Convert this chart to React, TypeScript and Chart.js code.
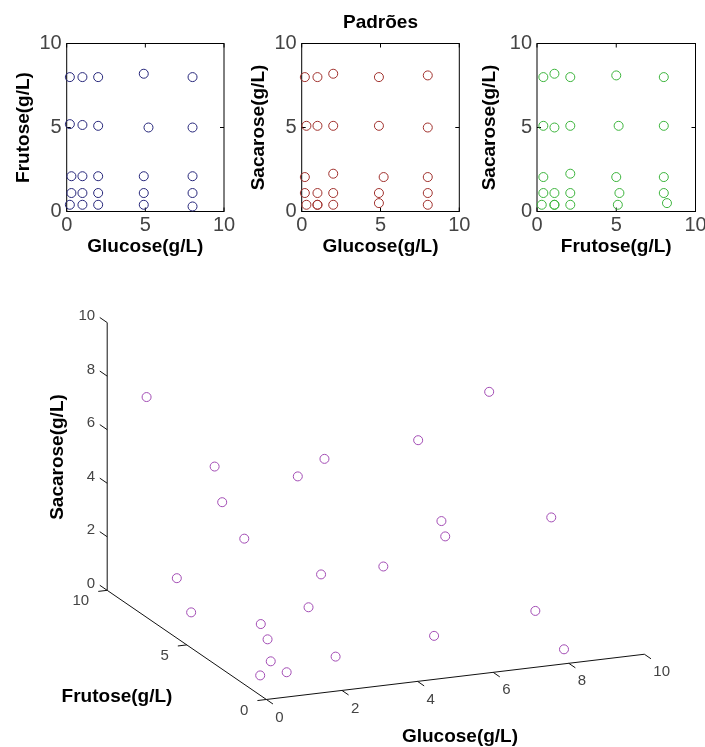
import React, { useEffect, useRef } from "react";
import { Chart, registerables } from "chart.js";

Chart.register(...registerables);

// ---- Data (25 standards: glucose, frutose, sacarose in g/L) ----
const glucose = [0.2, 2.0, 1.0, 0.3, 1.0, 2.0, 1.0, 4.9, 2.0, 0.2, 2.0, 0.2, 2.0, 1.0, 0.3, 1.0, 5.2, 8.0, 4.9, 8.0, 8.0, 4.9, 8.0, 4.9, 8.0];
const frutose = [8.0, 8.0, 5.15, 2.1, 0.4, 1.1, 8.0, 8.2, 2.1, 5.2, 5.1, 0.4, 0.4, 2.1, 1.1, 1.1, 5.0, 2.1, 1.1, 0.3, 5.0, 2.1, 8.0, 0.4, 1.1];
const sacarose = [8.0, 5.1, 5.1, 5.1, 8.0, 8.2, 1.1, 0.5, 2.25, 1.1, 0.4, 2.05, 1.1, 0.4, 0.4, 0.4, 2.05, 1.1, 1.1, 0.4, 8.1, 8.0, 2.05, 5.1, 5.0];

const ticks2D = [0, 5, 10];
const ticksG3D = [0, 2, 4, 6, 8, 10];
const ticksF3D = [0, 5, 10];
const ticksS3D = [0, 2, 4, 6, 8, 10];

const labelG = "Glucose(g/L)";
const labelF = "Frutose(g/L)";
const labelS = "Sacarose(g/L)";
const mainTitle = "Padrões";

// ---- Styles ----
const FONT = "'Liberation Sans', Arial, sans-serif";
const font = (size: number, weight: string = "normal") => ({ family: FONT, size, weight });
const TICK_COLOR = "#444";

// 3D projection constants (pixels per unit, orthographic view)
const GU = 38.4, GV = 4.63;
const FU = -16.17, FV = 11.17;
const SV = 27.4;
const project = (g: number, f: number, s: number) => ({ x: g * GU + f * FU, y: g * GV + f * FV + s * SV });

const box2DPlugin = {
  id: "box2d",
  beforeDatasetsDraw(chart: any) {
    const { ctx, chartArea: a, scales } = chart;
    const x = scales.x, y = scales.y;
    ctx.save();
    ctx.strokeStyle = "#000";
    ctx.lineWidth = 1;
    ctx.strokeRect(a.left, a.top, a.right - a.left, a.bottom - a.top);
    const seg = (x1: number, y1: number, x2: number, y2: number) => {
      ctx.beginPath(); ctx.moveTo(x1, y1); ctx.lineTo(x2, y2); ctx.stroke();
    };
    ticks2D.forEach((v) => {
      const px = x.getPixelForValue(v);
      seg(px, a.top, px, a.top + 4);
      seg(px, a.bottom, px, a.bottom - 4);
      const py = y.getPixelForValue(v);
      seg(a.left, py, a.left + 4, py);
      seg(a.right, py, a.right - 4, py);
    });
    ctx.restore();
  },
};

const axes3DPlugin = {
  id: "axes3d",
  beforeDatasetsDraw(chart: any) {
    const { ctx, scales } = chart;
    const sx = scales.x, sy = scales.y;
    const P = (g: number, f: number, s: number) => {
      const p = project(g, f, s);
      return [sx.getPixelForValue(p.x), sy.getPixelForValue(p.y)];
    };
    const seg = (a: number[], b: number[]) => {
      ctx.beginPath(); ctx.moveTo(a[0], a[1]); ctx.lineTo(b[0], b[1]); ctx.stroke();
    };
    const unit = (a: number[], b: number[]) => {
      const dx = b[0] - a[0], dy = b[1] - a[1];
      const l = Math.hypot(dx, dy);
      return [dx / l, dy / l];
    };
    const o = P(0, 0, 0);
    const dirF = unit(o, P(0, 1, 0));
    const dirG = unit(o, P(1, 0, 0));
    ctx.save();
    ctx.strokeStyle = "#111";
    ctx.lineWidth = 1;
    seg(o, P(10, 0, 0));
    seg(o, P(0, 10, 0));
    seg(P(0, 10, 0), P(0, 10, 10));

    ctx.fillStyle = TICK_COLOR;
    ctx.font = `15px ${FONT}`;
    ctx.textBaseline = "middle";
    // Sacarose ticks
    ctx.textAlign = "right";
    ticksS3D.forEach((s) => {
      const A = P(0, 10, s);
      seg(A, [A[0] + dirF[0] * 9, A[1] + dirF[1] * 9]);
      ctx.fillText(String(s), A[0] - 12, A[1] - 6.5);
    });
    // Frutose ticks
    ticksF3D.forEach((f) => {
      const A = P(0, f, 0);
      seg(A, [A[0] - dirG[0] * 9, A[1] - dirG[1] * 9]);
      ctx.fillText(String(f), A[0] - 18, A[1] + 11);
    });
    // Glucose ticks
    ctx.textAlign = "left";
    ticksG3D.forEach((g) => {
      const A = P(g, 0, 0);
      seg(A, [A[0] - dirF[0] * 8, A[1] - dirF[1] * 8]);
      ctx.fillText(String(g), A[0] + 9, A[1] + 18);
    });

    // Axis titles
    ctx.fillStyle = "#000";
    ctx.font = `bold 19px ${FONT}`;
    ctx.textAlign = "center";
    ctx.fillText(labelF, 117, 432);
    ctx.fillText(labelG, 460, 472);
    ctx.save();
    ctx.translate(58, 192);
    ctx.rotate(-Math.PI / 2);
    ctx.fillText(labelS, 0, 0);
    ctx.restore();
    ctx.restore();
  },
};

type Opts2D = {
  xs: number[];
  ys: number[];
  color: string;
  xTitle: string;
  yTitle: string;
  yW: number;
  rightPad: number;
  yTitlePad: number;
  title?: string;
};

function make2D(canvas: HTMLCanvasElement, o: Opts2D) {
  const topPad = o.title ? 11.6 : 43.5;
  return new Chart(canvas, {
    type: "scatter",
    data: {
      datasets: [
        {
          data: o.xs.map((x, i) => ({ x, y: o.ys[i] })),
          borderColor: o.color,
          backgroundColor: "rgba(0,0,0,0)",
          pointRadius: 4.5,
          pointHoverRadius: 4.5,
          pointBorderWidth: 1,
          clip: false,
        } as any,
      ],
    },
    options: {
      animation: false,
      responsive: false,
      events: [],
      layout: { padding: { left: 0, right: o.rightPad, top: topPad, bottom: 0 } },
      plugins: {
        legend: { display: false },
        tooltip: { enabled: false },
        title: o.title
          ? { display: true, text: o.title, fullSize: false, font: font(19, "bold") as any, color: "#000", padding: { top: 0, bottom: 9.1 } }
          : { display: false },
      },
      scales: {
        x: {
          type: "linear",
          min: 0,
          max: 10,
          grid: { display: false, drawTicks: false },
          border: { display: false },
          afterBuildTicks: (s: any) => { s.ticks = ticks2D.map((v) => ({ value: v })); },
          ticks: { padding: 1.5, font: font(20) as any, color: TICK_COLOR, maxRotation: 0, autoSkip: false },
          title: { display: true, text: o.xTitle, font: font(19, "bold") as any, color: "#000", padding: { top: 0, bottom: 3.6 } },
          afterFit: (s: any) => { s.height = 50.5; s.paddingLeft = 0; s.paddingRight = 0; },
        },
        y: {
          type: "linear",
          min: 0,
          max: 10,
          grid: { display: false, drawTicks: false },
          border: { display: false },
          afterBuildTicks: (s: any) => { s.ticks = ticks2D.map((v) => ({ value: v })); },
          ticks: { padding: 5, font: font(20) as any, color: TICK_COLOR, autoSkip: false },
          title: { display: true, text: o.yTitle, font: font(19, "bold") as any, color: "#000", padding: { top: o.yTitlePad, bottom: 0 } },
          afterFit: (s: any) => { s.width = o.yW; s.paddingTop = 0; s.paddingBottom = 0; },
        },
      },
    } as any,
    plugins: [box2DPlugin],
  });
}

function make3D(canvas: HTMLCanvasElement) {
  return new Chart(canvas, {
    type: "scatter",
    data: {
      datasets: [
        {
          data: glucose.map((g, i) => project(g, frutose[i], sacarose[i])),
          borderColor: "#a24cb4",
          backgroundColor: "rgba(0,0,0,0)",
          pointRadius: 4.5,
          pointHoverRadius: 4.5,
          pointBorderWidth: 1,
          clip: false,
        } as any,
      ],
    },
    options: {
      animation: false,
      responsive: false,
      events: [],
      layout: { padding: 0 },
      plugins: { legend: { display: false }, tooltip: { enabled: false } },
      scales: {
        x: { type: "linear", min: -265, max: 440, display: false },
        y: { type: "linear", min: -43, max: 439, display: false },
      },
    } as any,
    plugins: [axes3DPlugin],
  });
}

export default function App() {
  const c1 = useRef<HTMLCanvasElement>(null);
  const c2 = useRef<HTMLCanvasElement>(null);
  const c3 = useRef<HTMLCanvasElement>(null);
  const c4 = useRef<HTMLCanvasElement>(null);

  useEffect(() => {
    const charts = [
      make2D(c1.current!, { xs: glucose, ys: frutose, color: "#26267a", xTitle: labelG, yTitle: labelF, yW: 66.7, rightPad: 12, yTitlePad: 12.3 }),
      make2D(c2.current!, { xs: glucose, ys: sacarose, color: "#a0302c", xTitle: labelG, yTitle: labelS, yW: 65.7, rightPad: 12.7, yTitlePad: 11.3, title: mainTitle }),
      make2D(c3.current!, { xs: frutose, ys: sacarose, color: "#3cb43c", xTitle: labelF, yTitle: labelS, yW: 65, rightPad: 9.5, yTitlePad: 6.6 }),
      make3D(c4.current!),
    ];
    return () => charts.forEach((c) => c.destroy());
  }, []);

  const abs = (left: number, top: number) => ({ position: "absolute" as const, left, top });
  return (
    <div style={{ position: "absolute", left: 0, top: 0, width: 705, height: 747, background: "#fff", overflow: "hidden" }}>
      <canvas ref={c1} width={236} height={262} style={abs(0, 0)} />
      <canvas ref={c2} width={236} height={262} style={abs(236, 0)} />
      <canvas ref={c3} width={233} height={262} style={abs(472, 0)} />
      <canvas ref={c4} width={705} height={482} style={abs(0, 265)} />
    </div>
  );
}
